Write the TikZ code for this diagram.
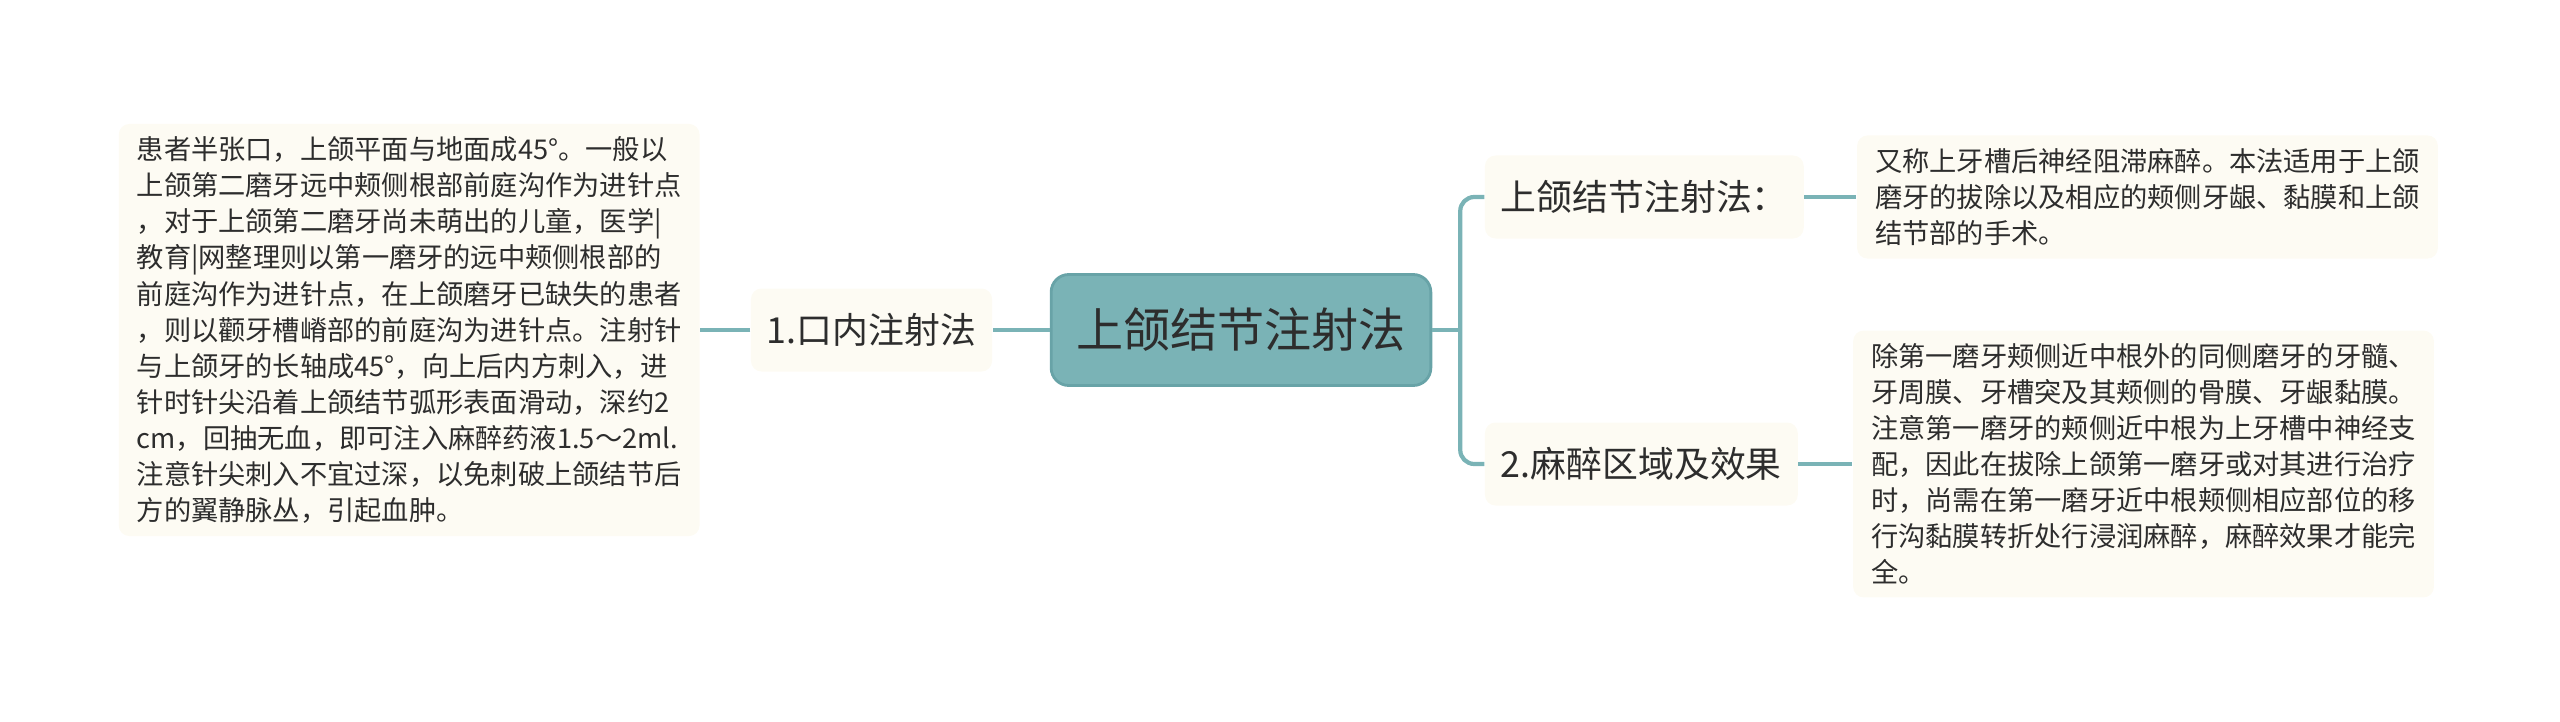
\documentclass[tikz,border=0pt]{standalone}
\usepackage{fontspec}
\setmainfont{Noto Sans CJK SC}
\usepackage{tikz}
\usetikzlibrary{positioning,calc}
\definecolor{trk}{RGB}{122,179,182}
\definecolor{trkd}{RGB}{104,163,167}
\definecolor{crm}{RGB}{253,251,243}
\definecolor{ink}{RGB}{45,45,45}
\tikzset{
  topic/.style={rectangle,rounded corners=5pt,fill=trk,draw=trkd,thick,text=ink,
    font=\fontsize{13.4}{16}\selectfont,inner xsep=2.5mm,minimum height=11.1mm},
  branch/.style={rectangle,rounded corners=3pt,fill=crm,text=ink,
    font=\fontsize{10.2}{12}\selectfont,inner xsep=1.6mm,minimum height=8.3mm},
  leaf/.style={rectangle,rounded corners=3pt,fill=crm,text=ink,align=left,
    font=\fontsize{7.75}{10.25}\selectfont,inner xsep=1.8mm,inner ysep=1.3mm},
  link/.style={draw=trk,line width=1.2pt,rounded corners=4pt},
}
\begin{document}
\begin{tikzpicture}
\useasboundingbox (0,0) rectangle (256mm,72.1mm);
\node[topic] (main) at (124.1mm,39.1mm) {上颌结节注射法};

% left side
\node[branch,left=5.7mm of main] (oral) {1.口内注射法};
\node[leaf,left=5.0mm of oral] (oraltxt) {患者半张口，上颌平面与地面成45°。一般以\\
上颌第二磨牙远中颊侧根部前庭沟作为进针点\\
，对于上颌第二磨牙尚未萌出的儿童，医学|\\
教育|网整理则以第一磨牙的远中颊侧根部的\\
前庭沟作为进针点，在上颌磨牙已缺失的患者\\
，则以颧牙槽嵴部的前庭沟为进针点。注射针\\
与上颌牙的长轴成45°，向上后内方刺入，进\\
针时针尖沿着上颌结节弧形表面滑动，深约2\\
cm，回抽无血，即可注入麻醉药液1.5～2ml.\\
注意针尖刺入不宜过深，以免刺破上颌结节后\\
方的翼静脉丛，引起血肿。};

% right side
\node[branch,right=5.2mm of main,yshift=13.3mm] (tub) {上颌结节注射法：};
\node[branch,right=5.2mm of main,yshift=-13.4mm] (area) {2.麻醉区域及效果};
\node[leaf,right=5.2mm of tub] (tubtxt) {又称上牙槽后神经阻滞麻醉。本法适用于上颌\\
磨牙的拔除以及相应的颊侧牙龈、黏膜和上颌\\
结节部的手术。};
\node[leaf,right=5.4mm of area] (areatxt) {除第一磨牙颊侧近中根外的同侧磨牙的牙髓、\\
牙周膜、牙槽突及其颊侧的骨膜、牙龈黏膜。\\
注意第一磨牙的颊侧近中根为上牙槽中神经支\\
配，因此在拔除上颌第一磨牙或对其进行治疗\\
时，尚需在第一磨牙近中根颊侧相应部位的移\\
行沟黏膜转折处行浸润麻醉，麻醉效果才能完\\
全。};

% connectors
\coordinate (fork) at ($(main.east)+(2.8mm,0)$);
\draw[link] (main.east) -- (fork);
\draw[link] (tub.west) -| (fork) |- (area.west);
\draw[link] (main.west) -- (oral.east);
\draw[link] (oral.west) -- (oraltxt.east);
\draw[link] (tub.east) -- (tubtxt.west);
\draw[link] (area.east) -- (areatxt.west);
\end{tikzpicture}
\end{document}
